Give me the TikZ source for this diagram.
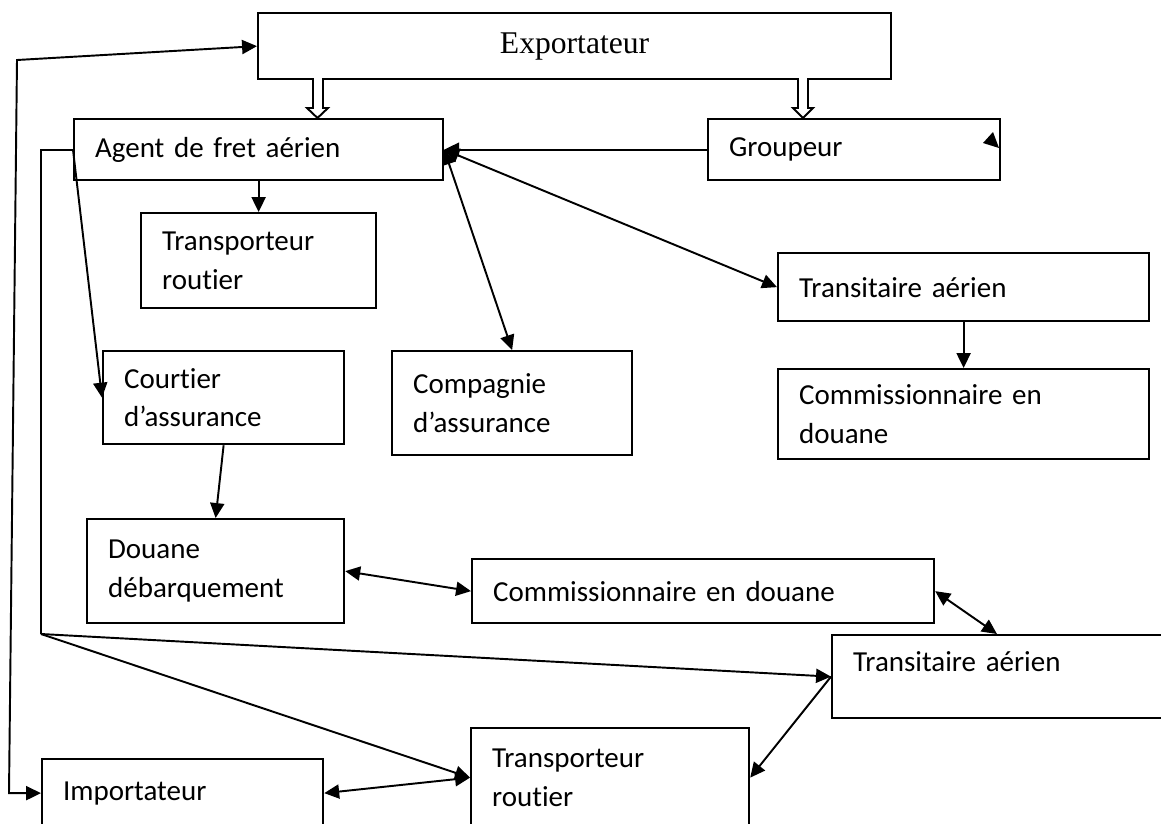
\documentclass[tikz,border=0pt]{standalone}
\usepackage{fontspec}
\setmainfont{Carlito}[Ligatures=NoCommon]
\newfontfamily\expofont{Liberation Serif}
\usetikzlibrary{arrows.meta}

\begin{document}
\begin{tikzpicture}[x=0.02cm, y=-0.02cm,
    box/.style={draw, rectangle, line width=1.3pt, anchor=north west, align=left,
        inner xsep=0.42cm, font=\fontsize{16.5}{22}\selectfont},
    conn/.style={line width=1.1pt},
    arr/.style={conn, -{Triangle[length=8.5pt, width=8pt]}},
    dbl/.style={conn, {Triangle[length=8.5pt, width=8pt]}-{Triangle[length=8.5pt, width=8pt]}},
    hollow/.style={draw, line width=1.1pt, fill=white}]
    \useasboundingbox (0, 0) rectangle (1161, 823);

    \node (expo)   at (257, 12)  [box, align=center, text width=11.82cm, minimum height=1.32cm,
                                  font=\expofont\fontsize{18}{22}\selectfont] {Exportateur};
    \node (agent)  at (73, 118)  [box, text width=6.54cm, minimum height=1.22cm] {Agent de fret aérien};
    \node (group)  at (707, 118) [box, text width=5.00cm, minimum height=1.22cm] {Groupeur};
    \node (trans1) at (140, 212) [box, text width=3.86cm, minimum height=1.90cm] {Transporteur\\routier};
    \node (court)  at (102, 350) [box, text width=3.98cm, minimum height=1.86cm] {Courtier\\d’assurance};
    \node (comp)   at (391, 350) [box, text width=3.96cm, minimum height=2.08cm] {Compagnie\\d’assurance};
    \node (trair1) at (777, 252) [box, text width=6.58cm, minimum height=1.36cm] {Transitaire aérien};
    \node (comm1)  at (777, 368) [box, text width=6.58cm, minimum height=1.80cm] {Commissionnaire en\\douane};
    \node (douane) at (86, 518)  [box, text width=4.30cm, minimum height=2.08cm] {Douane\\débarquement};
    \node (comm2)  at (471, 558) [box, text width=8.40cm, minimum height=1.28cm] {Commissionnaire en douane};
    \node (trair2) at (831, 634) [box, text width=7.16cm, minimum height=1.66cm,
                                  text height=12pt, text depth=17.5pt] {Transitaire aérien};
    \node (trans2) at (470, 727) [box, text width=4.72cm, minimum height=1.98cm] {Transporteur\\routier};
    \node (import) at (41, 758)  [box, text width=4.78cm, minimum height=1.36cm] {Importateur};

    \coordinate (hub)  at (41, 634);
    \coordinate (lowc) at (9, 790);
    \coordinate (topc) at (17, 60);

    % hollow arrows under the exporter
    \draw[hollow] (313, 78) -- (313, 108) -- (307, 108) -- (317.5, 118) -- (328, 108)
        -- (323, 108) -- (323, 78);
    \draw[hollow] (798, 78) -- (798, 108) -- (793, 108) -- (803, 118) -- (813, 108)
        -- (808, 108) -- (808, 78);
    \fill (983, 143) -- (993, 132) -- (999, 148) -- cycle;

    \draw[arr] (group.west) -- (agent.east);
    \draw[dbl] (agent.east) -- (trair1.west);
    \draw[dbl] (agent.east) -- (comp.north);
    \draw[arr] (agent.south -| trans1.north) -- (trans1.north);
    \draw[arr] (agent.west) -- (court.west);
    \draw[arr] (court.south) -- (douane.north);
    \draw[arr] (trair1.south) -- (comm1.north);
    \draw[dbl] (douane.east) -- (comm2.west);
    \draw[dbl] (comm2.east) -- ([xshift=3.32cm]trair2.north west);
    \draw[arr] (trair2.west) -- (trans2.east);
    \draw[dbl] (trans2.west) -- (import.east);

    \draw[conn] (agent.west) -- (hub |- agent.west) -- (hub);
    \draw[arr] (hub) -- (trair2.west);
    \draw[arr] (hub) -- (trans2.west);
    \draw[dbl] (import.west) -- (import.west -| lowc) -- (topc) -- (expo.west);
\end{tikzpicture}
\end{document}
